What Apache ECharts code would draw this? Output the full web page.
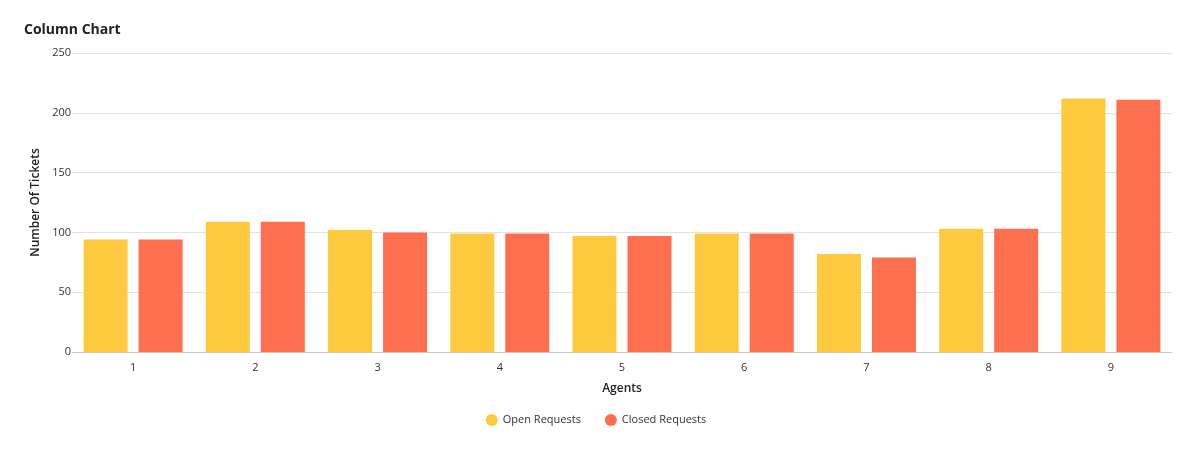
<!DOCTYPE html>
<html>
<head>
<meta charset="utf-8">
<script src="https://cdn.jsdelivr.net/npm/echarts@6/dist/echarts.min.js"></script>
<style>
  html, body { margin: 0; padding: 0; background: #fff; }
  #chart { width: 1192px; height: 457px; }
</style>
</head>
<body>
<div id="chart"></div>
<script>
var agents = ['1', '2', '3', '4', '5', '6', '7', '8', '9'];
var openRequests = [94, 109, 102, 99, 97, 99, 82, 103, 212];
var closedRequests = [94, 109, 100, 99, 97, 99, 79, 103, 211];

var chart = echarts.init(document.getElementById('chart'));
var font = '"Open Sans", sans-serif';

option = {
    title: {
        text: 'Column Chart',
        left: 19,
        top: 18,
        textStyle: { fontFamily: font, fontSize: 14, fontWeight: 'bold', color: '#222' }
    },
    legend: {
        bottom: 26,
        left: 'center',
        icon: 'circle',
        itemWidth: 12,
        itemHeight: 12,
        itemGap: 24,
        textStyle: { fontFamily: font, fontSize: 11, color: '#333' }
    },
    grid: { left: 72, right: 20, top: 53, bottom: 105 },
    xAxis: {
        type: 'category',
        data: agents,
        name: 'Agents',
        nameLocation: 'middle',
        nameGap: 31,
        nameTextStyle: { fontFamily: font, fontSize: 12, fontWeight: 600, color: '#222' },
        axisLine: { lineStyle: { color: '#c8c8c8' } },
        axisTick: { show: false },
        axisLabel: { fontFamily: font, fontSize: 11, color: '#333', margin: 10 }
    },
    yAxis: {
        type: 'value',
        min: 0,
        max: 250,
        interval: 50,
        name: 'Number Of Tickets',
        nameLocation: 'middle',
        nameGap: 29,
        nameTextStyle: { fontFamily: font, fontSize: 12, fontWeight: 600, color: '#222' },
        axisLine: { show: false },
        axisTick: { show: false },
        axisLabel: { fontFamily: font, fontSize: 11, color: '#333', margin: 1 },
        splitLine: { lineStyle: { color: '#e3e3e3' } }
    },
    series: [{
        name: 'Open Requests',
        type: 'bar',
        data: openRequests,
        barWidth: 44,
        barGap: '25%',
        itemStyle: { color: '#FDC93F' }
    }, {
        name: 'Closed Requests',
        type: 'bar',
        data: closedRequests,
        barWidth: 44,
        barGap: '25%',
        itemStyle: { color: '#FE6F4F' }
    }]
};
chart.setOption(option);
window.addEventListener('resize', chart.resize);
</script>
</body>
</html>
